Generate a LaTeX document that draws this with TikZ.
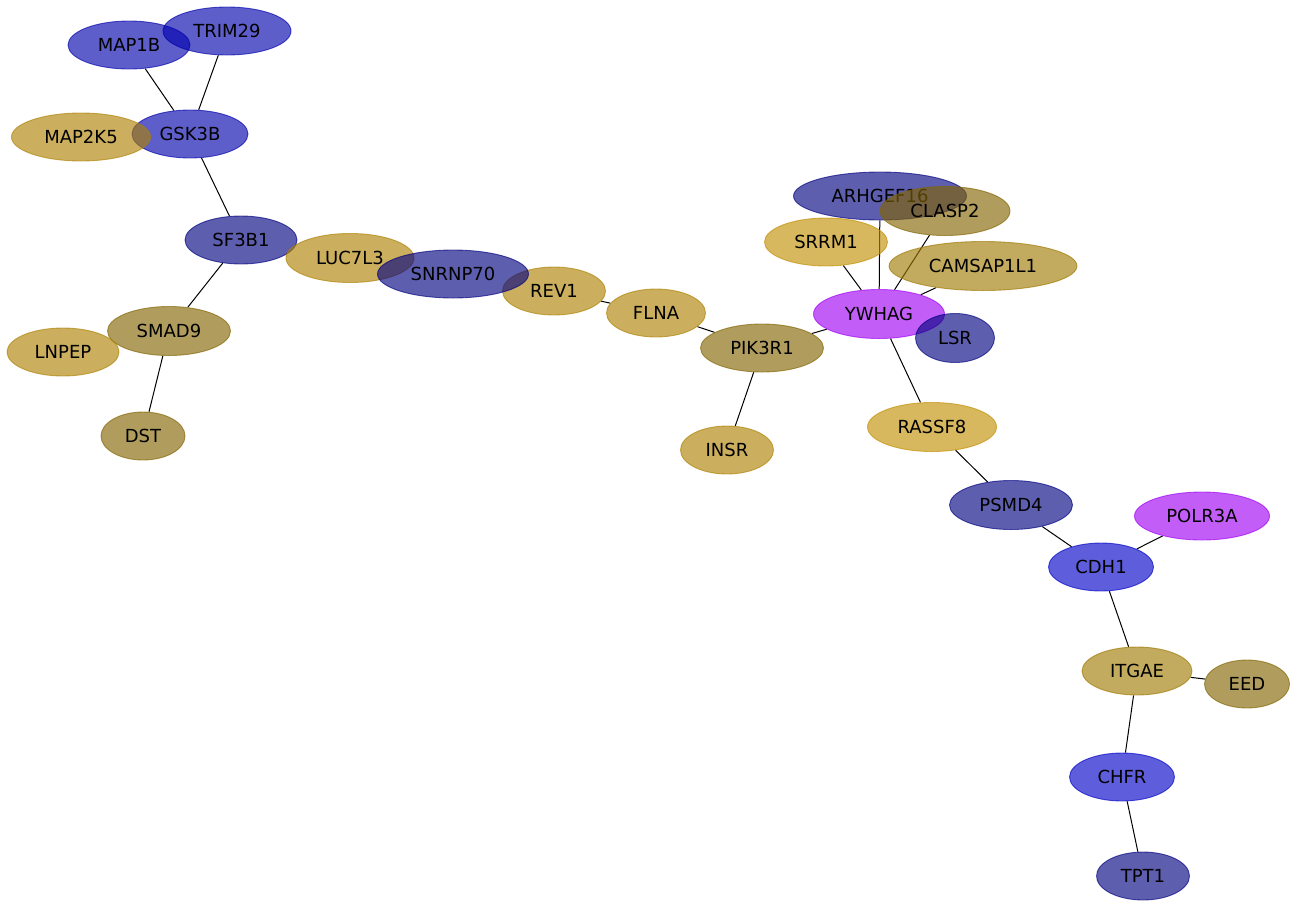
\documentclass[tikz,border=0pt]{standalone}
\usepackage{fontspec}
\setmainfont{DejaVu Sans}
\usetikzlibrary{shapes.geometric,backgrounds}
\definecolor{blueA}{RGB}{0,0,173}
\definecolor{blueB}{RGB}{0,0,200}
\definecolor{navyc}{RGB}{0,0,128}
\definecolor{magc}{RGB}{159,0,243}
\definecolor{goldA}{RGB}{173,129,0}
\definecolor{goldB}{RGB}{194,143,0}
\definecolor{goldC}{RGB}{159,121,0}
\definecolor{olivec}{RGB}{130,100,0}
\newcommand\genefont{\fontsize{18}{20}\selectfont}
\tikzset{
  gene/.style={ellipse, inner sep=0pt, line width=0.9pt, fill opacity=0.63,
    draw opacity=0.65, text opacity=1, text=black, font=\genefont},
  gc/.style={gene, fill=#1, draw=#1},
  link/.style={draw=black, line width=1pt}
}
\begin{document}
\begin{tikzpicture}[x=1pt,y=-1pt]
\useasboundingbox (0,0) rectangle (1297,908);
% nodes
\node[gc=blueA, minimum width=122pt, minimum height=48pt] (MAP1B) at (129,45) {MAP1B};
\node[gc=blueA, minimum width=128pt, minimum height=48pt] (TRIM29) at (227,31) {TRIM29};
\node[gc=blueA, minimum width=116pt, minimum height=48pt] (GSK3B) at (190,134) {GSK3B};
\node[gc=goldA, minimum width=139pt, minimum height=48pt] (MAP2K5) at (81,137) {MAP2K5};
\node[gc=navyc, minimum width=112pt, minimum height=48pt] (SF3B1) at (241,240) {SF3B1};
\node[gc=goldA, minimum width=128pt, minimum height=49pt] (LUC7L3) at (350,258) {LUC7L3};
\node[gc=goldA, minimum width=103pt, minimum height=48pt] (REV1) at (554,291) {REV1};
\node[gc=navyc, minimum width=151pt, minimum height=48pt] (SNRNP70) at (453,274) {SNRNP70};
\node[gc=goldA, minimum width=99pt, minimum height=48pt] (FLNA) at (656,313) {FLNA};
\node[gc=olivec, minimum width=123pt, minimum height=48pt] (PIK3R1) at (762,348) {PIK3R1};
\node[gc=goldA, minimum width=93pt, minimum height=48pt] (INSR) at (727,450) {INSR};
\node[gc=olivec, minimum width=123pt, minimum height=49pt] (SMAD9) at (169,331) {SMAD9};
\node[gc=goldA, minimum width=112pt, minimum height=48pt] (LNPEP) at (63,352) {LNPEP};
\node[gc=olivec, minimum width=84pt, minimum height=48pt] (DST) at (143,436) {DST};
\node[gc=navyc, minimum width=173pt, minimum height=48pt] (ARHGEF16) at (880,196) {ARHGEF16};
\node[gc=olivec, minimum width=130pt, minimum height=49pt] (CLASP2) at (945,211) {CLASP2};
\node[gc=goldB, minimum width=123pt, minimum height=48pt] (SRRM1) at (826,242) {SRRM1};
\node[gc=goldC, minimum width=188pt, minimum height=49pt] (CAMSAP1L1) at (983,266) {CAMSAP1L1};
\node[gc=magc, minimum width=131pt, minimum height=49pt] (YWHAG) at (879,314) {YWHAG};
\node[gc=navyc, minimum width=79pt, minimum height=49pt] (LSR) at (955,338) {LSR};
\node[gc=goldB, minimum width=129pt, minimum height=49pt] (RASSF8) at (932,427) {RASSF8};
\node[gc=navyc, minimum width=123pt, minimum height=49pt] (PSMD4) at (1011,505) {PSMD4};
\node[gc=magc, minimum width=135pt, minimum height=48pt] (POLR3A) at (1202,516) {POLR3A};
\node[gc=blueB, minimum width=105pt, minimum height=48pt] (CDH1) at (1101,567) {CDH1};
\node[gc=goldC, minimum width=110pt, minimum height=48pt] (ITGAE) at (1137,671) {ITGAE};
\node[gc=olivec, minimum width=85pt, minimum height=48pt] (EED) at (1247,684) {EED};
\node[gc=blueB, minimum width=105pt, minimum height=48pt] (CHFR) at (1122,777) {CHFR};
\node[gc=navyc, minimum width=93pt, minimum height=48pt] (TPT1) at (1143,876) {TPT1};
% edges
\begin{pgfonlayer}{background}
\fill[white] (0,0) rectangle (1297,908);
\draw[link] (MAP1B) -- (GSK3B);
\draw[link] (TRIM29) -- (GSK3B);
\draw[link] (GSK3B) -- (SF3B1);
\draw[link] (SF3B1) -- (SMAD9);
\draw[link] (SMAD9) -- (DST);
\draw[link] (REV1) -- (FLNA);
\draw[link] (FLNA) -- (PIK3R1);
\draw[link] (PIK3R1) -- (YWHAG);
\draw[link] (PIK3R1) -- (INSR);
\draw[link] (YWHAG) -- (SRRM1);
\draw[link] (YWHAG) -- (ARHGEF16);
\draw[link] (YWHAG) -- (CLASP2);
\draw[link] (YWHAG) -- (CAMSAP1L1);
\draw[link] (YWHAG) -- (RASSF8);
\draw[link] (RASSF8) -- (PSMD4);
\draw[link] (PSMD4) -- (CDH1);
\draw[link] (CDH1) -- (POLR3A);
\draw[link] (CDH1) -- (ITGAE);
\draw[link] (ITGAE) -- (EED);
\draw[link] (ITGAE) -- (CHFR);
\draw[link] (CHFR) -- (TPT1);
\end{pgfonlayer}
\end{tikzpicture}
\end{document}
